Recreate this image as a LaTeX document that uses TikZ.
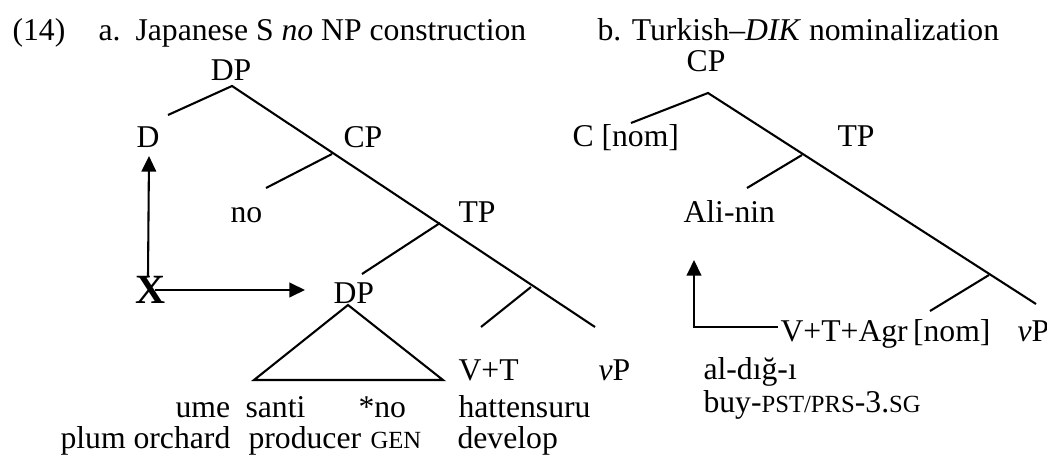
\documentclass[tikz,border=0pt]{standalone}
\usepackage{fontspec}
\setmainfont{Liberation Serif}
\usepackage{tikz}
\usetikzlibrary{arrows.meta}

% fake small caps for glosses
\newcommand{\gl}[1]{{\fontsize{9.5}{11}\selectfont #1}}

\begin{document}
\begin{tikzpicture}[
    x=0.385pt, y=-0.385pt,
    font=\fontsize{12.2}{14}\selectfont,
    lbl/.style={anchor=base west, inner sep=0pt},
    br/.style={line width=0.8pt},
    tip/.style={Triangle[length=6pt,width=5.6pt]},
    arr/.style={-{Triangle[length=6pt,width=5.6pt]}, line width=0.8pt},
  ]
  \useasboundingbox (0,0) rectangle (1047,459);

  % heading line
  \node[lbl] (num) at (12,41) {(14)};
  \node[lbl] (ha) at (98,41) {a.};
  \node[lbl] (hatitle) at (135,41) {Japanese S \textit{no} NP construction};
  \node[lbl] (hb) at (597,41) {b. Turkish--\textit{DIK} nominalization};

  % (a) labels
  \node[lbl, anchor=base] (dpa) at (231,81) {DP};
  \node[lbl] (da) at (136,148) {D};
  \node[lbl] (cpa) at (343,148) {CP};
  \node[lbl] (noa) at (230,222) {no};
  \node[lbl] (tpa) at (458,222) {TP};
  \node[lbl, font=\fontsize{16}{19}\selectfont\bfseries] (xa) at (135,303) {X};
  \node[lbl] (dpb) at (333,303) {DP};
  \node[lbl] (vta) at (458,380) {V+T};
  \node[lbl] (vpa) at (598,380) {\textit{v}P};

  % (a) words and glosses
  \node[lbl] (ume) at (175,417) {ume};
  \node[lbl] (santi) at (245,417) {santi};
  \node[lbl] (nogen) at (358,417) {*no};
  \node[lbl] (hatt) at (458,417) {hattensuru};
  \node[lbl] (plum) at (60,448) {plum orchard};
  \node[lbl] (prod) at (248,448) {producer};
  \node[lbl] (gen) at (370,448) {\gl{GEN}};
  \node[lbl] (devel) at (457,448) {develop};

  % (a) branches
  \coordinate (a0) at (232,86);
  \coordinate (a1) at (332,154);
  \coordinate (a2) at (440,223);
  \coordinate (a3) at (531,287);
  \draw[br] (168,115) -- (a0) -- (595,327);
  \draw[br] (a1) -- (266,188);
  \draw[br] (a2) -- (362,274);
  \draw[br] (a3) -- (481,327);
  \draw[br] (348,305) -- (254,380) -- (443,380) -- cycle;

  % (a) movement
  \coordinate (xup) at (148,276);
  \coordinate (xrt) at (155,290);
  \draw[arr] (xup) -- (149,156);
  \draw[arr] (xrt) -- (305,290);

  % (b) labels
  \node[lbl, anchor=base] (cpb) at (706,72) {CP};
  \node[lbl] (cb) at (572,147) {C [nom]};
  \node[lbl] (tpb) at (837,147) {TP};
  \node[lbl] (ali) at (683,222) {Ali-nin};
  \node[lbl] (vtb) at (780,341) {V+T+Agr\,[nom]};
  \node[lbl] (vpb) at (1017,341) {\textit{v}P};
  \node[lbl] (aldi) at (703,379) {al-dığ-ı};
  \node[lbl] (buy) at (703,412) {buy-\gl{PST/PRS}-3.\gl{SG}};

  % (b) branches
  \coordinate (b0) at (708,93);
  \coordinate (b1) at (802,155);
  \coordinate (b2) at (989,275);
  \draw[br] (631,123) -- (b0) -- (1036,304);
  \draw[br] (b1) -- (747,188);
  \draw[br] (b2) -- (930,311);

  % (b) agreement arrows
  \coordinate (bup) at (694,260);
  \coordinate (brt) at (778,327);
  \draw[arr, {Triangle[length=6pt,width=5.6pt]}-] (bup) |- (brt);
\end{tikzpicture}
\end{document}
